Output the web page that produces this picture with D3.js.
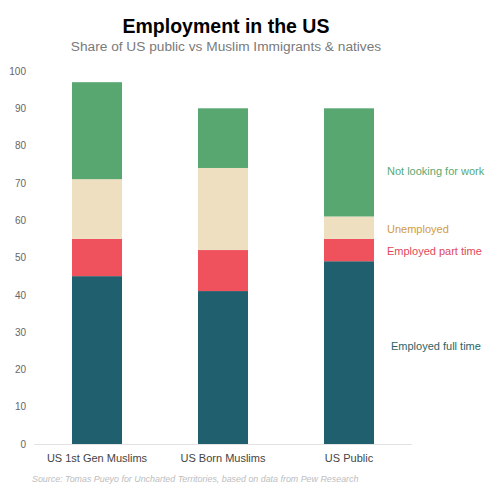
<!DOCTYPE html>
<html><head><meta charset="utf-8">
<script src="https://cdn.jsdelivr.net/npm/d3@7"></script>
<style>body{margin:0;background:#fff}svg{display:block;font-family:"Liberation Sans",Arial,Helvetica,sans-serif}</style>
</head><body>
<svg id="c" width="500" height="493"></svg>
<script>
const categories = ["US 1st Gen Muslims", "US Born Muslims", "US Public"];
const seriesNames = ["Employed full time", "Employed part time", "Unemployed", "Not looking for work"];
const fullTime = [45, 41, 49];
const partTime = [10, 11, 6];
const unemployed = [16, 22, 6];
const notLooking = [26, 16, 29];
const yTicks = [0, 10, 20, 30, 40, 50, 60, 70, 80, 90, 100];
const colors = ["#1f5f6e", "#f0525d", "#eedfc1", "#58a770"];
const labelColors = ["#2a6468", "#e0485a", "#d39a3c", "#5aa874"];
const labelY = [346, 251, 229, 171];

const svg = d3.select("#c");
const x = d3.scaleBand().domain(categories).range([34, 412]).paddingInner(0.603).paddingOuter(0.3015);
const y = d3.scaleLinear().domain([0, 100]).range([444, 71]);

const rows = categories.map((c, i) => ({
  cat: c,
  "Employed full time": fullTime[i],
  "Employed part time": partTime[i],
  "Unemployed": unemployed[i],
  "Not looking for work": notLooking[i]
}));
const stacked = d3.stack().keys(seriesNames)(rows);

svg.append("text").attr("x", 226).attr("y", 33).attr("text-anchor", "middle")
  .attr("font-size", 19.5).attr("font-weight", "bold").attr("fill", "#000").text("Employment in the US");
svg.append("text").attr("x", 226).attr("y", 51).attr("text-anchor", "middle")
  .attr("font-size", 13.7).attr("fill", "#7a7a7a").text("Share of US public vs Muslim Immigrants & natives");

const yAxis = d3.axisLeft(y).tickValues(yTicks).tickSize(0).tickPadding(0);
const ya = svg.append("g").attr("transform", "translate(26,0)").call(yAxis);
ya.select(".domain").remove();
ya.selectAll("text").attr("font-size", 10).attr("fill", "#666").attr("font-family", "Liberation Sans, Arial, sans-serif");

svg.append("line").attr("x1", 34).attr("x2", 412).attr("y1", y(0) + 0.5).attr("y2", y(0) + 0.5)
  .attr("stroke", "#e2e2e2").attr("stroke-width", 1);

svg.append("g").selectAll("g").data(stacked).join("g")
  .attr("fill", (d, i) => colors[i])
  .selectAll("rect").data(d => d).join("rect")
  .attr("x", d => x(d.data.cat))
  .attr("width", x.bandwidth())
  .attr("y", d => y(d[1]))
  .attr("height", d => y(d[0]) - y(d[1]));

const xAxis = d3.axisBottom(x).tickSize(0).tickPadding(0);
const xa = svg.append("g").attr("transform", "translate(0,454)").call(xAxis);
xa.select(".domain").remove();
xa.selectAll("text").attr("font-size", 11).attr("fill", "#444").attr("font-family", "Liberation Sans, Arial, sans-serif");

seriesNames.forEach((n, i) => {
  svg.append("text").attr("x", i === 0 ? 391 : 387).attr("y", labelY[i]).attr("dy", "0.35em")
    .attr("font-size", 11).attr("fill", labelColors[i]).text(n);
});

svg.append("text").attr("x", 32).attr("y", 482).attr("font-size", 8.9).attr("font-style", "italic")
  .attr("fill", "#bdbdbd").text("Source: Tomas Pueyo for Uncharted Territories, based on data from Pew Research");
</script>
</body></html>
